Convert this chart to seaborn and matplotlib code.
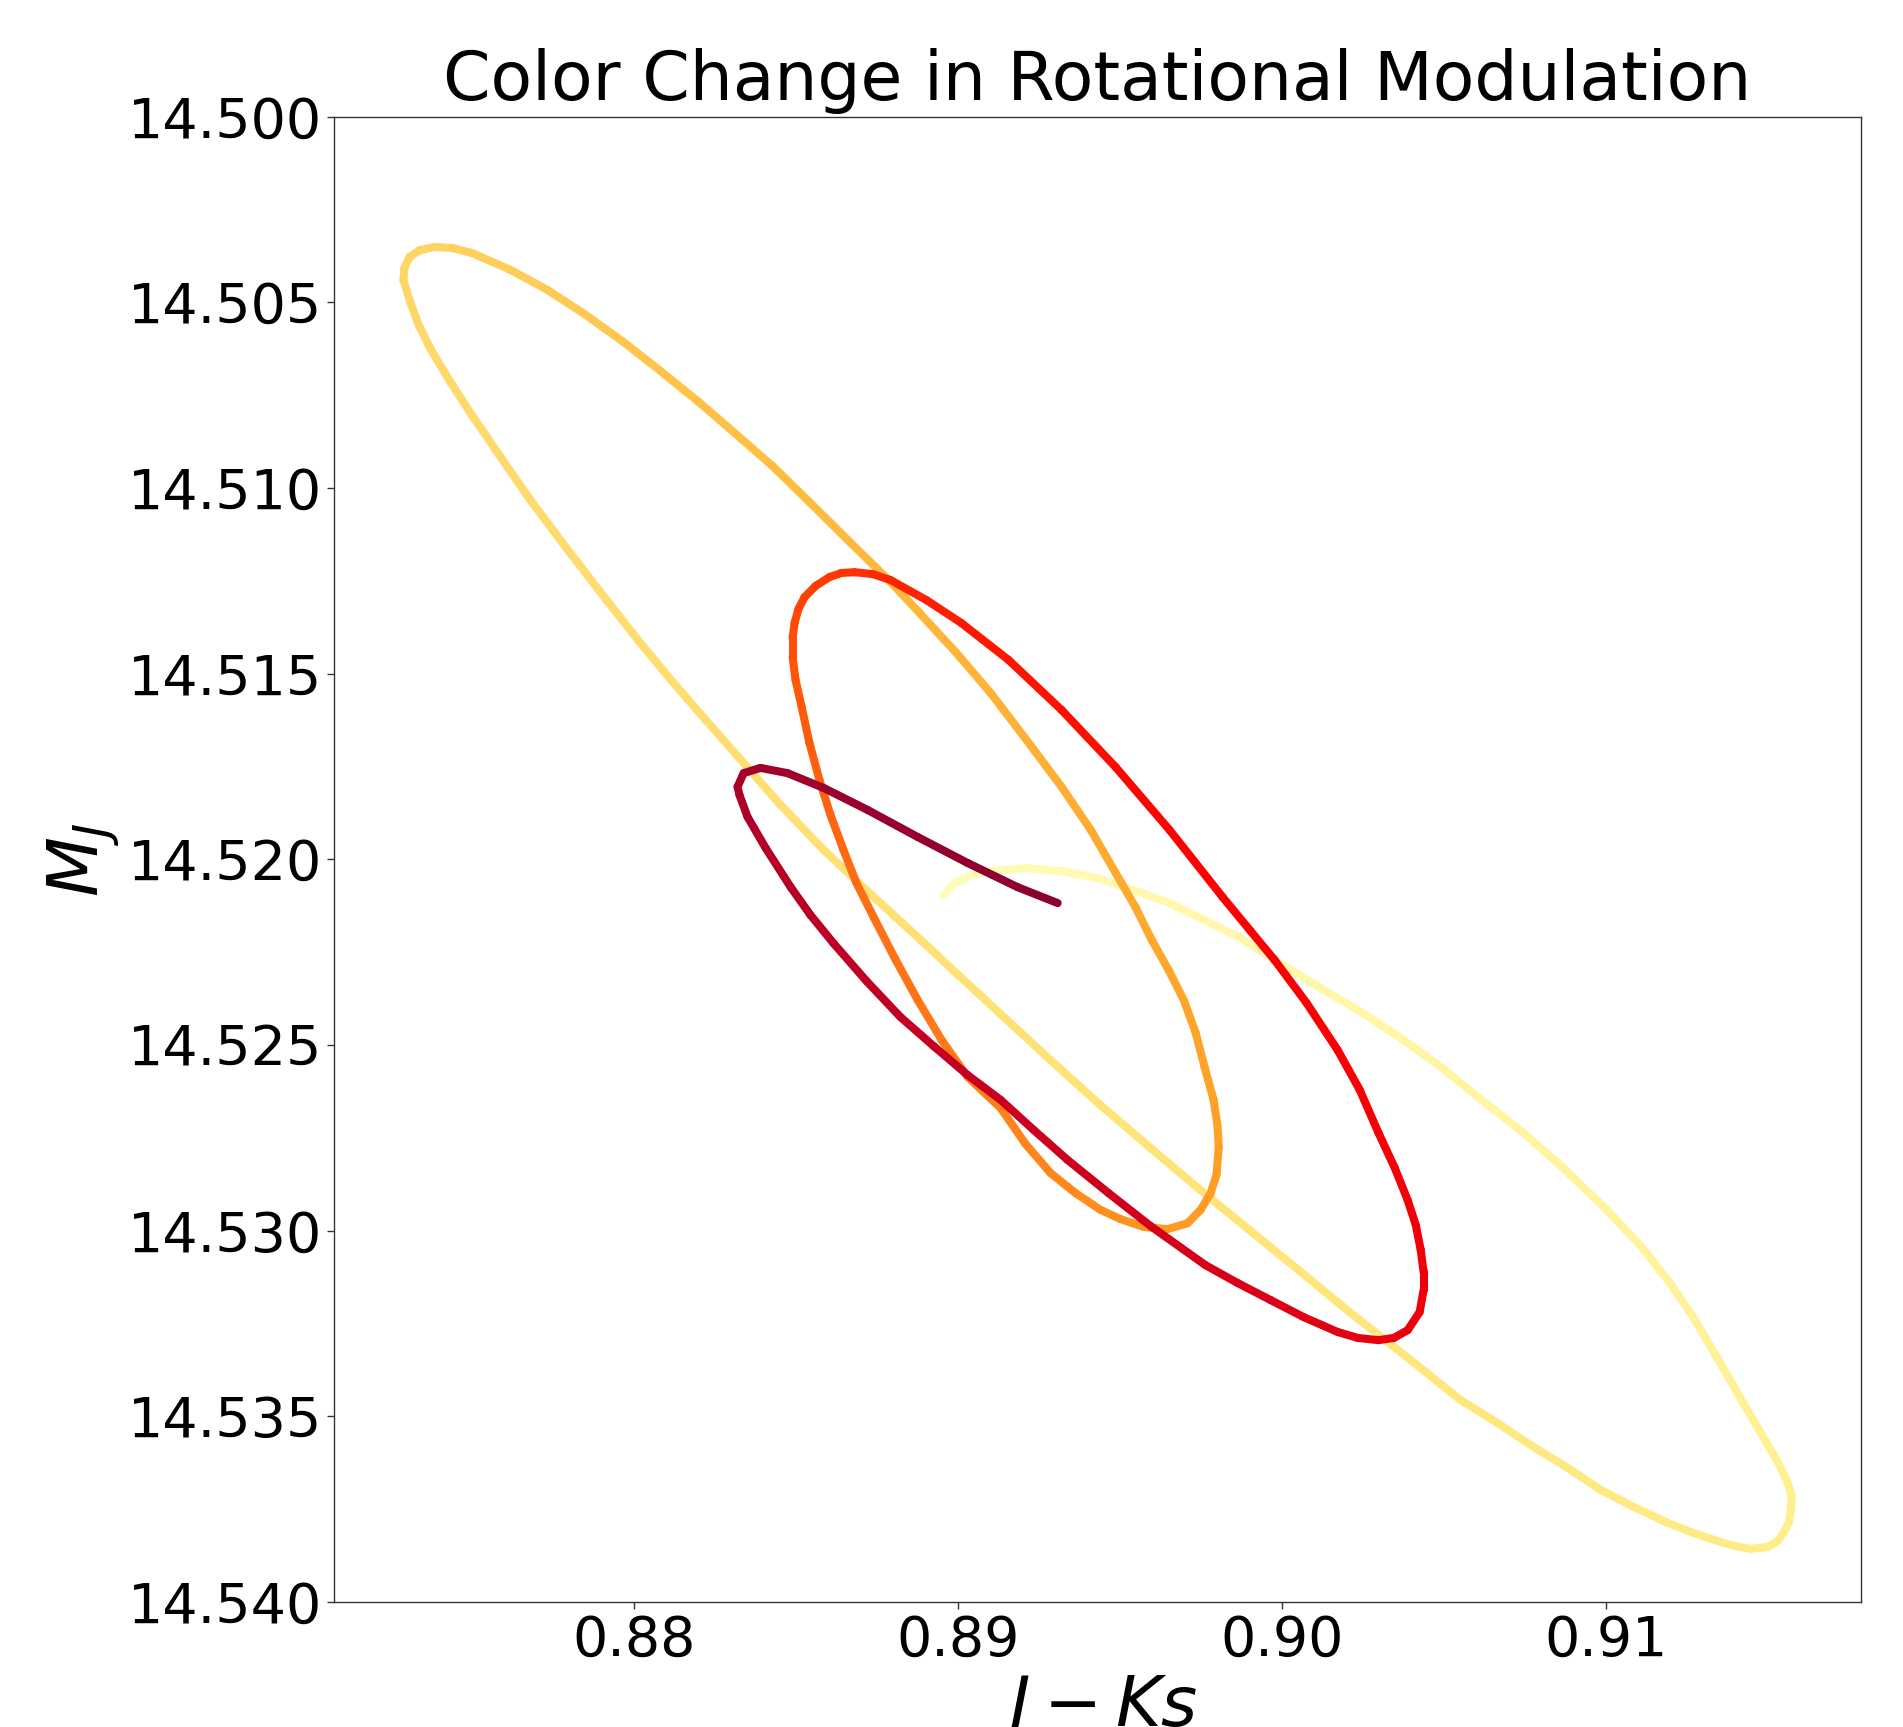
import numpy as np
import pandas as pd
import matplotlib
matplotlib.use("Agg")
import matplotlib.pyplot as plt
from matplotlib.colors import LinearSegmentedColormap
import seaborn as sns

# ---- data (J-Ks colour, absolute J magnitude), in time order ----
j_ks = [0.88955, 0.88989, 0.89044, 0.89100, 0.89211, 0.89319, 0.89430, 0.89541, 0.89652, 0.89760,
        0.89871, 0.89976, 0.90103, 0.90233, 0.90365, 0.90489, 0.90612, 0.90745, 0.90874, 0.91001,
        0.91106, 0.91192, 0.91266, 0.91337, 0.91415, 0.91482, 0.91532, 0.91560, 0.91572, 0.91569,
        0.91563, 0.91547, 0.91526, 0.91498, 0.91445, 0.91393, 0.91343, 0.91269, 0.91189, 0.91084,
        0.90982, 0.90881, 0.90776, 0.90664, 0.90550, 0.90381, 0.90211, 0.90057, 0.89902, 0.89748,
        0.89594, 0.89439, 0.89285, 0.89131, 0.89007, 0.88884, 0.88730, 0.88585, 0.88452, 0.88319,
        0.88205, 0.88112, 0.88014, 0.87915, 0.87798, 0.87680, 0.87588, 0.87501, 0.87433, 0.87372,
        0.87335, 0.87310, 0.87288, 0.87291, 0.87307, 0.87338, 0.87384, 0.87440, 0.87501, 0.87619,
        0.87733, 0.87847, 0.87964, 0.88081, 0.88196, 0.88310, 0.88427, 0.88541, 0.88659, 0.88791,
        0.88881, 0.88992, 0.89100, 0.89211, 0.89319, 0.89409, 0.89486, 0.89547, 0.89597, 0.89649,
        0.89696, 0.89733, 0.89760, 0.89788, 0.89800, 0.89804, 0.89797, 0.89779, 0.89748, 0.89708,
        0.89646, 0.89572, 0.89501, 0.89439, 0.89362, 0.89285, 0.89208, 0.89131, 0.89029, 0.88949,
        0.88875, 0.88804, 0.88739, 0.88686, 0.88646, 0.88606, 0.88572, 0.88541, 0.88517, 0.88498,
        0.88489, 0.88489, 0.88495, 0.88507, 0.88526, 0.88560, 0.88603, 0.88640, 0.88680, 0.88736,
        0.88791, 0.88902, 0.89010, 0.89155, 0.89319, 0.89486, 0.89652, 0.89816, 0.89902, 0.89976,
        0.90075, 0.90171, 0.90239, 0.90297, 0.90347, 0.90387, 0.90412, 0.90427, 0.90436, 0.90436,
        0.90424, 0.90387, 0.90344, 0.90297, 0.90233, 0.90171, 0.90066, 0.89964, 0.89862, 0.89763,
        0.89594, 0.89464, 0.89338, 0.89233, 0.89131, 0.89029, 0.88924, 0.88822, 0.88717, 0.88615,
        0.88544, 0.88483, 0.88406, 0.88350, 0.88325, 0.88319, 0.88338, 0.88390, 0.88473, 0.88585,
        0.88720, 0.88875, 0.89029, 0.89183, 0.89307]

m_j = [14.52096, 14.52064, 14.52042, 14.52032, 14.52024, 14.52032, 14.52051, 14.52083, 14.52118, 14.52164,
       14.52212, 14.52271, 14.52339, 14.52406, 14.52481, 14.52559, 14.52646, 14.52737, 14.52837, 14.52944,
       14.53041, 14.53136, 14.53230, 14.53335, 14.53453, 14.53553, 14.53628, 14.53680, 14.53717, 14.53752,
       14.53787, 14.53814, 14.53838, 14.53852, 14.53857, 14.53849, 14.53836, 14.53814, 14.53787, 14.53744,
       14.53698, 14.53639, 14.53583, 14.53518, 14.53456, 14.53338, 14.53222, 14.53111, 14.53001, 14.52891,
       14.52778, 14.52662, 14.52541, 14.52417, 14.52317, 14.52217, 14.52094, 14.51975, 14.51854, 14.51722,
       14.51609, 14.51515, 14.51412, 14.51302, 14.51170, 14.51033, 14.50917, 14.50806, 14.50715, 14.50626,
       14.50561, 14.50502, 14.50440, 14.50408, 14.50378, 14.50360, 14.50351, 14.50354, 14.50368, 14.50413,
       14.50467, 14.50532, 14.50605, 14.50685, 14.50766, 14.50852, 14.50941, 14.51038, 14.51140, 14.51253,
       14.51337, 14.51442, 14.51552, 14.51679, 14.51805, 14.51921, 14.52037, 14.52129, 14.52217, 14.52298,
       14.52379, 14.52468, 14.52559, 14.52648, 14.52716, 14.52775, 14.52850, 14.52899, 14.52944, 14.52980,
       14.52996, 14.52990, 14.52969, 14.52944, 14.52899, 14.52845, 14.52767, 14.52670, 14.52586, 14.52487,
       14.52379, 14.52266, 14.52156, 14.52064, 14.51975, 14.51881, 14.51787, 14.51687, 14.51590, 14.51517,
       14.51455, 14.51404, 14.51364, 14.51326, 14.51294, 14.51264, 14.51240, 14.51229, 14.51227, 14.51232,
       14.51248, 14.51302, 14.51364, 14.51463, 14.51598, 14.51752, 14.51921, 14.52102, 14.52193, 14.52271,
       14.52387, 14.52514, 14.52621, 14.52737, 14.52831, 14.52918, 14.52985, 14.53051, 14.53111, 14.53160,
       14.53219, 14.53268, 14.53289, 14.53295, 14.53289, 14.53273, 14.53233, 14.53187, 14.53141, 14.53093,
       14.52988, 14.52899, 14.52810, 14.52729, 14.52648, 14.52581, 14.52503, 14.52425, 14.52328, 14.52226,
       14.52150, 14.52075, 14.51970, 14.51886, 14.51827, 14.51805, 14.51768, 14.51754, 14.51768, 14.51808,
       14.51867, 14.51940, 14.52010, 14.52075, 14.52118]

# colour observed along the track (index of point -> colour)
anchor_idx = [0, 29, 53, 76, 85, 96, 110, 120, 128, 138, 147, 163, 170, 179, 186, 194]
anchor_col = ["#fffcba", "#ffef8e", "#ffe275", "#fed465", "#ffc043", "#ffab30", "#ff9922",
              "#ff7717", "#ff5a0c", "#ff3300", "#ff0000", "#e8000e", "#d4001b", "#bf0024",
              "#a8002a", "#8c0030"]

title = "Color Change in Rotational Modulation"
x_label = r"$J-Ks$"
y_label = r"$M_J$"
y_limits = (14.540, 14.500)
x_ticks = [0.88, 0.89, 0.90, 0.91]
x_ticklabels = ["0.88", "0.89", "0.90", "0.91"]
y_ticks = [14.500, 14.505, 14.510, 14.515, 14.520, 14.525, 14.530, 14.535, 14.540]
y_ticklabels = ["14.500", "14.505", "14.510", "14.515", "14.520", "14.525",
                "14.530", "14.535", "14.540"]

# ---- style ----
sns.set_theme(style="white", rc={
    "axes.edgecolor": "#333333",
    "axes.linewidth": 1.0,
    "axes.labelcolor": "black",
    "text.color": "black",
    "xtick.bottom": True,
    "ytick.left": True,
    "xtick.major.size": 5,
    "ytick.major.size": 5,
    "xtick.major.width": 1.0,
    "ytick.major.width": 1.0,
    "xtick.color": "#333333",
    "ytick.color": "#333333",
    "xtick.labelcolor": "black",
    "ytick.labelcolor": "black",
    "xtick.labelsize": 40,
    "ytick.labelsize": 40,
})
plt.rcParams["font.family"] = ["DejaVu Sans"]

n = len(j_ks)
cmap = LinearSegmentedColormap.from_list(
    "track", [(i / (n - 1), c) for i, c in zip(anchor_idx, anchor_col)])

# one two-point piece per step so that each gets its own colour
rows = []
for i in range(n - 1):
    rows.append((j_ks[i], m_j[i], i))
    rows.append((j_ks[i + 1], m_j[i + 1], i))
df = pd.DataFrame(rows, columns=["jks", "mj", "seg"])
palette = {i: cmap((i + 0.5) / (n - 1)) for i in range(n - 1)}

fig = plt.figure(figsize=(19.03, 17.27), dpi=100)
ax = fig.add_axes([0.1755, 0.0724, 0.8025, 0.8601])

sns.lineplot(data=df, x="jks", y="mj", hue="seg", palette=palette, estimator=None,
             sort=False, legend=False, linewidth=5.8, solid_capstyle="round", ax=ax)

lo, hi = min(j_ks), max(j_ks)
pad = 0.05 * (hi - lo)
ax.set_xlim(lo - pad, hi + pad)
ax.set_ylim(*y_limits)
ax.set_xticks(x_ticks)
ax.set_xticklabels(x_ticklabels)
ax.set_yticks(y_ticks)
ax.set_yticklabels(y_ticklabels)

ax.set_title(title, fontsize=49, pad=12, color="black")
ax.set_xlabel(x_label, fontsize=50)
ax.set_ylabel(y_label, fontsize=50)

fig.savefig("out.png", dpi=100)
